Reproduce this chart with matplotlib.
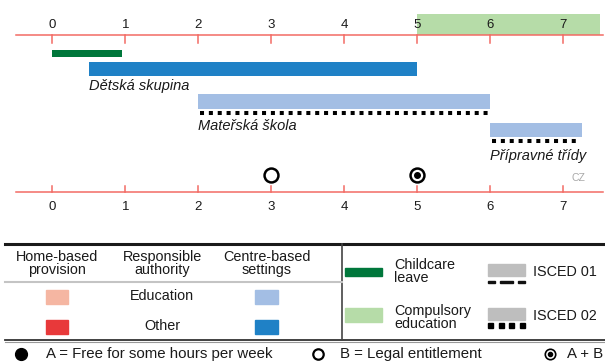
import matplotlib
matplotlib.use("Agg")
import matplotlib.pyplot as plt
from matplotlib.patches import Rectangle

plt.rcParams["font.family"] = ["Liberation Sans", "DejaVu Sans"]

# age scale
ages = [0, 1, 2, 3, 4, 5, 6, 7]

# ECEC settings: name, age range, responsible authority, ISCED level
settings = ["Dětská skupina", "Mateřská škola", "Přípravné třídy"]
start_age = [0.5, 2, 6]
end_age = [5, 6, 7.25]
authority = ["Other", "Education", "Education"]
isced = [None, "02", "02"]

# childcare leave and compulsory education
leave_start = 0
leave_end = 0.96
compulsory_start = 5
compulsory_end = 7.5

# entitlement markers
legal_b = [3]
legal_ab = [5]
country = "CZ"

RED_AX = "#F26B64"
col = {"Education": "#A3BEE4", "Other": "#1F81C6"}
home_col = {"Education": "#F5B6A2", "Other": "#E8393A"}
GREEN = "#00773B"
LGREEN = "#B6DCA8"
GREY = "#BEBEBE"
TXT = "#1a1a1a"

fig = plt.figure(figsize=(6.05, 3.63), dpi=100)

# ---- timeline (x in years, y in pixels from top)
ax = fig.add_axes([0, 0, 1, 1])
ax.set_xlim(-0.716, 7.571)
ax.set_ylim(363, 0)
ax.axis("off")

# compulsory education band
ax.barh(24.5, compulsory_end - compulsory_start, left=compulsory_start, height=21,
        color=LGREEN, zorder=1)

# axis lines with ticks
for y_line, tick_to, lab_y in [(35, 43, 25), (191.7, 186, 207)]:
    ax.plot([-0.5, 7.55], [y_line, y_line], color=RED_AX, lw=1.1, zorder=2)
    for a in ages:
        ax.plot([a, a], [y_line, tick_to], color=RED_AX, lw=1.1, zorder=2)
        ax.text(a, lab_y, str(a), ha="center", va="center", fontsize=9.5, color=TXT)

# childcare leave
ax.barh(53.5, leave_end - leave_start, left=leave_start, height=7, color=GREEN)

bar_y = [69, 101.3, 130]
bar_h = [14, 14.5, 13.5]
label_y = [86, 126, 156]
for name, s, e, auth, lev, y, h, ly in zip(settings, start_age, end_age, authority,
                                            isced, bar_y, bar_h, label_y):
    ax.barh(y, e - s, left=s, height=h, color=col[auth])
    if lev == "02":
        ax.plot([s + 0.02, e - 0.02], [y + h / 2 + 4.5] * 2, color="black", lw=2.9,
                dashes=(1.0, 1.2), solid_capstyle="butt", dash_capstyle="butt")
    ax.text(s, ly, name, ha="left", va="center", fontsize=10.5, style="italic",
            color=TXT)

# entitlement markers
for a in legal_b:
    ax.plot(a, 175, "o", ms=10, mfc="white", mec="black", mew=1.8)
for a in legal_ab:
    ax.plot(a, 175, "o", ms=10, mfc="white", mec="black", mew=1.8)
    ax.plot(a, 175, "o", ms=4, color="black")

ax.text(7.21, 178, country, ha="center", va="center", fontsize=7.5, color="#A8A8A8")

# ---- legend (pixel coordinates)
lg = fig.add_axes([0, 0, 1, 1])
lg.set_xlim(0, 605)
lg.set_ylim(363, 0)
lg.axis("off")

lg.plot([5, 605], [244, 244], color="#1a1a1a", lw=2.2)
lg.plot([5, 605], [339.5, 339.5], color="#333", lw=1.3)
lg.plot([5, 605], [342, 342], color="#999", lw=0.8)
lg.plot([342, 342], [244, 339.5], color="#444", lw=1.2)
lg.plot([5, 342], [281.7, 281.7], color="#C4C4C4", lw=1.5)

for x, txt in [(57, "Home-based\nprovision"), (162, "Responsible\nauthority"),
               (267, "Centre-based\nsettings")]:
    lg.text(x, 263.5, txt, ha="center", va="center", fontsize=10.4,
            linespacing=0.92, color=TXT)

for auth, yc in [("Education", 296.5), ("Other", 326.5)]:
    lg.add_patch(Rectangle((46, yc - 7), 22, 14, color=home_col[auth]))
    lg.add_patch(Rectangle((255, yc - 7), 23, 14, color=col[auth]))
    lg.text(162, yc, auth, ha="center", va="center", fontsize=10.4, color=TXT)

lg.add_patch(Rectangle((345, 268), 37, 8, color=GREEN))
lg.text(394, 271.5, "Childcare\nleave", ha="left", va="center", fontsize=10.4,
        linespacing=0.92, color=TXT)
lg.add_patch(Rectangle((345, 308), 37, 14, color=LGREEN))
lg.text(394, 317.5, "Compulsory\neducation", ha="left", va="center", fontsize=10.4,
        linespacing=0.92, color=TXT)

# ISCED 01: grey box with dashed underline
lg.add_patch(Rectangle((488, 263.5), 37, 12, color=GREY))
for x0, w in [(488, 7), (500, 13), (518, 7)]:
    lg.add_patch(Rectangle((x0, 280.5), w, 2, color="#111"))
lg.text(533, 271.5, "ISCED 01", ha="left", va="center", fontsize=10.4, color=TXT)

# ISCED 02: grey box with dotted underline
lg.add_patch(Rectangle((488, 308), 37, 12, color=GREY))
for x0 in [488, 498.7, 509.3, 520]:
    lg.add_patch(Rectangle((x0, 323), 5, 4.5, color="black"))
lg.text(533, 316, "ISCED 02", ha="left", va="center", fontsize=10.4, color=TXT)

# bottom key line
lg.plot(21, 353.5, "o", ms=8.5, color="black")
lg.text(46, 354, "A = Free for some hours per week", ha="left", va="center",
        fontsize=10.8, color=TXT)
lg.plot(318, 353.5, "o", ms=7.5, mfc="white", mec="black", mew=1.6)
lg.text(340, 354, "B = Legal entitlement", ha="left", va="center",
        fontsize=10.8, color=TXT)
lg.plot(549.5, 353.5, "o", ms=7.5, mfc="white", mec="black", mew=1.2)
lg.plot(549.5, 353.5, "o", ms=3, color="black")
lg.text(567, 354, "A + B", ha="left", va="center", fontsize=10.8, color=TXT)

fig.savefig("out.png", dpi=100)
